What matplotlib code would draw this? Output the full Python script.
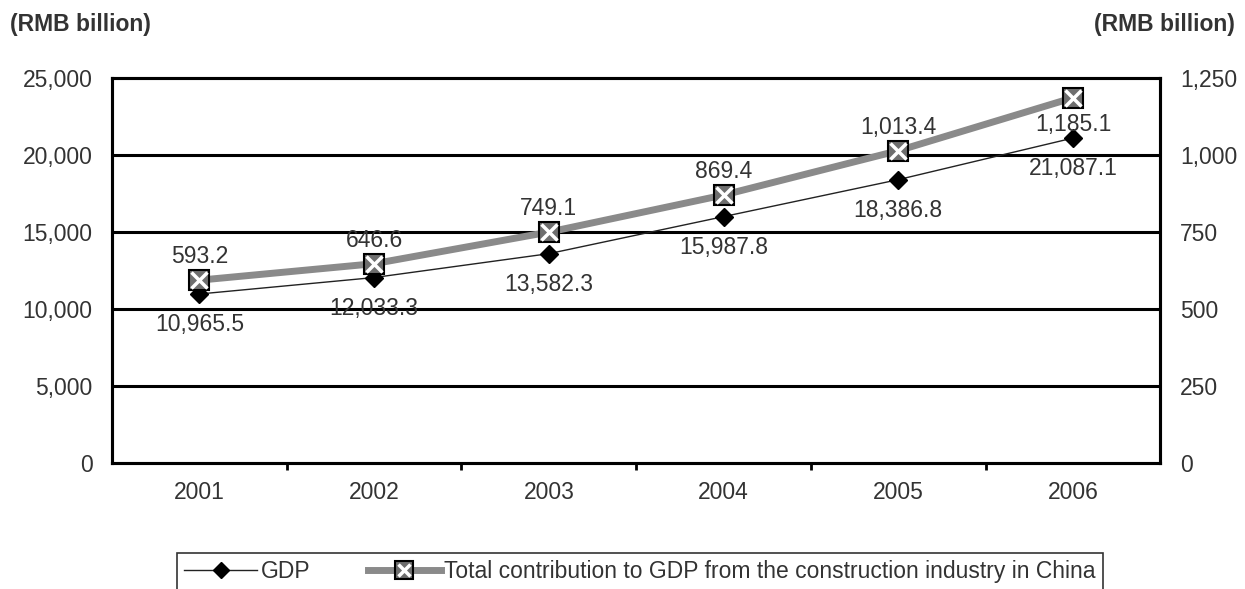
import matplotlib.pyplot as plt
from matplotlib.ticker import FuncFormatter, FixedLocator
from matplotlib.legend_handler import HandlerTuple

plt.rcParams['font.family'] = ['Liberation Sans', 'DejaVu Sans']

years = ['2001', '2002', '2003', '2004', '2005', '2006']
gdp = [10965.5, 12033.3, 13582.3, 15987.8, 18386.8, 21087.1]
construction = [593.2, 646.6, 749.1, 869.4, 1013.4, 1185.1]

txt = '#333333'
fs = 16.5
x = list(range(len(years)))

fig = plt.figure(figsize=(12.45, 5.89), dpi=100)
ax = fig.add_axes([0.09, 0.214, 0.842, 0.654])
ax2 = ax.twinx()

ax.set_xlim(-0.5, 5.5)
ax.set_ylim(0, 25000)
ax2.set_ylim(0, 1250)

for v in [5000, 10000, 15000, 20000]:
    ax.axhline(v, color='black', lw=2.2, zorder=1)

gdp_line, = ax.plot(x, gdp, color='#222222', lw=1, marker='D', ms=9,
                    mfc='black', mec='black', zorder=3)
con_line, = ax2.plot(x, construction, color='#8a8a8a', lw=5, marker='s', ms=15,
                     mfc='#6e6e6e', mec='black', mew=1.5, zorder=3)
con_x, = ax2.plot(x, construction, ls='none', marker='x', ms=11, mew=2.5,
                  color='white', zorder=4)

# value labels
for i, v in enumerate(gdp):
    ax.annotate(f'{v:,.1f}', (i, v), xytext=(0, -22), textcoords='offset points',
                ha='center', va='center', fontsize=fs, color=txt)
for i, v in enumerate(construction):
    dy = -19 if i == len(construction) - 1 else 17
    ax2.annotate(f'{v:,.1f}', (i, v), xytext=(0, dy), textcoords='offset points',
                 ha='center', va='center', fontsize=fs, color=txt)

ax.set_xticks(x)
ax.set_xticklabels(years)
ax.xaxis.set_minor_locator(FixedLocator([0.5, 1.5, 2.5, 3.5, 4.5]))
ax.tick_params(axis='x', which='major', length=0, pad=13, labelsize=fs, labelcolor=txt)
ax.tick_params(axis='x', which='minor', length=5, width=2, direction='out', color='black')

ax.set_yticks(range(0, 25001, 5000))
ax.yaxis.set_major_formatter(FuncFormatter(lambda v, p: f'{v:,.0f}'))
ax.tick_params(axis='y', length=0, pad=14, labelsize=fs, labelcolor=txt)

ax2.set_yticks(range(0, 1251, 250))
ax2.yaxis.set_major_formatter(FuncFormatter(lambda v, p: f'{v:,.0f}'))
ax2.tick_params(axis='y', length=0, pad=14, labelsize=fs, labelcolor=txt)

for a in (ax, ax2):
    for s in a.spines.values():
        s.set_linewidth(2.2)
        s.set_color('black')

fig.text(0.008, 0.958, '(RMB billion)', fontsize=fs, fontweight='bold', color=txt,
         va='center', ha='left')
fig.text(0.992, 0.958, '(RMB billion)', fontsize=fs, fontweight='bold', color=txt,
         va='center', ha='right')

leg = fig.legend([gdp_line, (con_line, con_x)],
                 ['GDP', 'Total contribution to GDP from the construction industry in China'],
                 handler_map={tuple: HandlerTuple(ndivide=1, pad=0)},
                 loc='center', bbox_to_anchor=(0.514, 0.03), ncol=2, fontsize=fs,
                 frameon=True, fancybox=False, edgecolor='black', handlelength=3.2,
                 columnspacing=2.5, borderpad=0.3, handletextpad=0.15,
                 markerscale=0.85)
leg.get_frame().set_linewidth(1.2)
for t in leg.get_texts():
    t.set_color(txt)

fig.savefig('out.png', dpi=100, facecolor='white')
